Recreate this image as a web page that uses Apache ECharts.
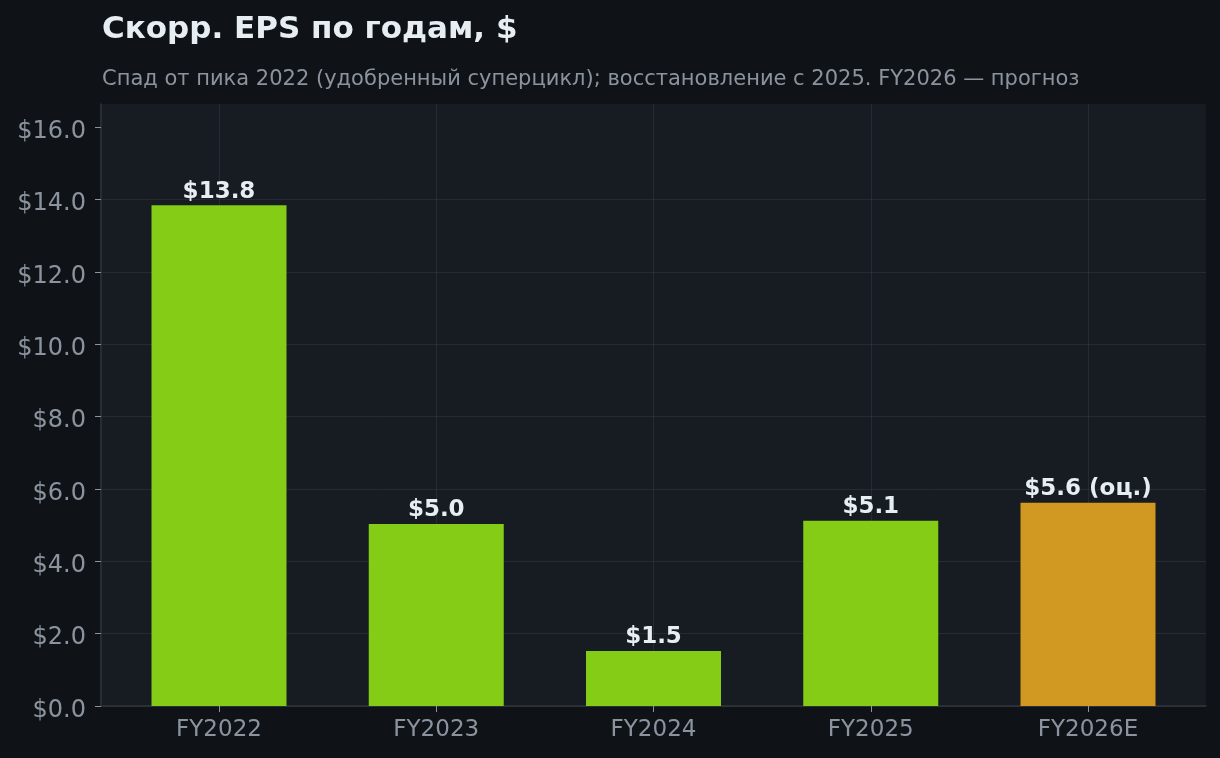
<!DOCTYPE html>
<html><head><meta charset="utf-8">
<script src="https://cdn.jsdelivr.net/npm/echarts@6/dist/echarts.min.js"></script>
<style>html,body{margin:0;padding:0;background:#0f1318}#c{width:1220px;height:758px}</style>
</head><body><div id="c"></div>
<script>
const categories = ['FY2022', 'FY2023', 'FY2024', 'FY2025', 'FY2026E'];
const epsValues = [13.84, 5.03, 1.52, 5.12, 5.62];
const labelSuffixes = ['', '', '', '', ' (оц.)'];
const barColors = ['#84cc16', '#84cc16', '#84cc16', '#84cc16', '#d29922'];
const yTicks = [0, 2, 4, 6, 8, 10, 12, 14, 16];
const yMax = 16.64;
const titleText = 'Скорр. EPS по годам, $';
const subtitleText = 'Спад от пика 2022 (удобренный суперцикл); восстановление с 2025. FY2026 — прогноз';

const FONT = 'DejaVu Sans';
const gridColor = 'rgba(48,54,61,0.6)';
const axisColor = '#30363d';
const muted = '#8b949e';
const fg = '#e6edf3';

const chart = echarts.init(document.getElementById('c'), null, {renderer: 'canvas'});
chart.setOption({
  backgroundColor: '#0f1318',
  animation: false,
  textStyle: {fontFamily: FONT},
  title: [
    {text: titleText, left: 102, top: 14, padding: 0, textStyle: {color: fg, fontSize: 31, fontWeight: 'bold', fontFamily: FONT}},
    {text: subtitleText, left: 102, top: 69, padding: 0, textStyle: {color: muted, fontSize: 21, fontWeight: 'normal', fontFamily: FONT}}
  ],
  grid: [
    {left: 101, right: 14, top: 104, bottom: 52, show: true, backgroundColor: '#171b22', borderWidth: 0},
    {left: 219, right: 132, top: 104, bottom: 52}
  ],
  xAxis: [
    {gridIndex: 0, type: 'category', data: [''],
     axisLine: {show: true, lineStyle: {color: axisColor, width: 1.5}},
     axisTick: {show: false}, axisLabel: {show: false}, splitLine: {show: false}},
    {gridIndex: 1, type: 'category', data: categories, boundaryGap: false,
     axisLine: {show: false},
     axisTick: {show: true, length: 6, lineStyle: {color: muted}},
     axisLabel: {color: muted, fontSize: 23, margin: 13, fontFamily: FONT},
     splitLine: {show: true, lineStyle: {color: gridColor, width: 1}}}
  ],
  yAxis: [
    {gridIndex: 0, type: 'value', min: 0, max: yMax, interval: 2,
     axisLine: {show: true, lineStyle: {color: axisColor, width: 1.5}},
     axisTick: {show: true, length: 6, customValues: yTicks, lineStyle: {color: muted}},
     axisLabel: {customValues: yTicks, formatter: v => '{t|$' + Number(v).toFixed(1) + '}', margin: 15,
       rich: {t: {color: muted, fontSize: 24, fontFamily: FONT, padding: [9, 0, 0, 0]}}},
     splitLine: {show: true, showMaxLine: false, lineStyle: {color: gridColor, width: 1}}},
    {gridIndex: 1, type: 'value', min: 0, max: yMax, show: false, splitLine: {show: false}}
  ],
  series: [{
    type: 'bar',
    xAxisIndex: 1, yAxisIndex: 1,
    barWidth: 135,
    clip: false,
    data: epsValues.map((v, i) => ({value: v, itemStyle: {color: barColors[i]}})),
    label: {
      show: true, position: 'top', distance: 2,
      color: fg, fontSize: 23, fontWeight: 'bold', fontFamily: FONT,
      formatter: p => '$' + p.value.toFixed(1) + labelSuffixes[p.dataIndex]
    }
  }]
});
</script></body></html>
